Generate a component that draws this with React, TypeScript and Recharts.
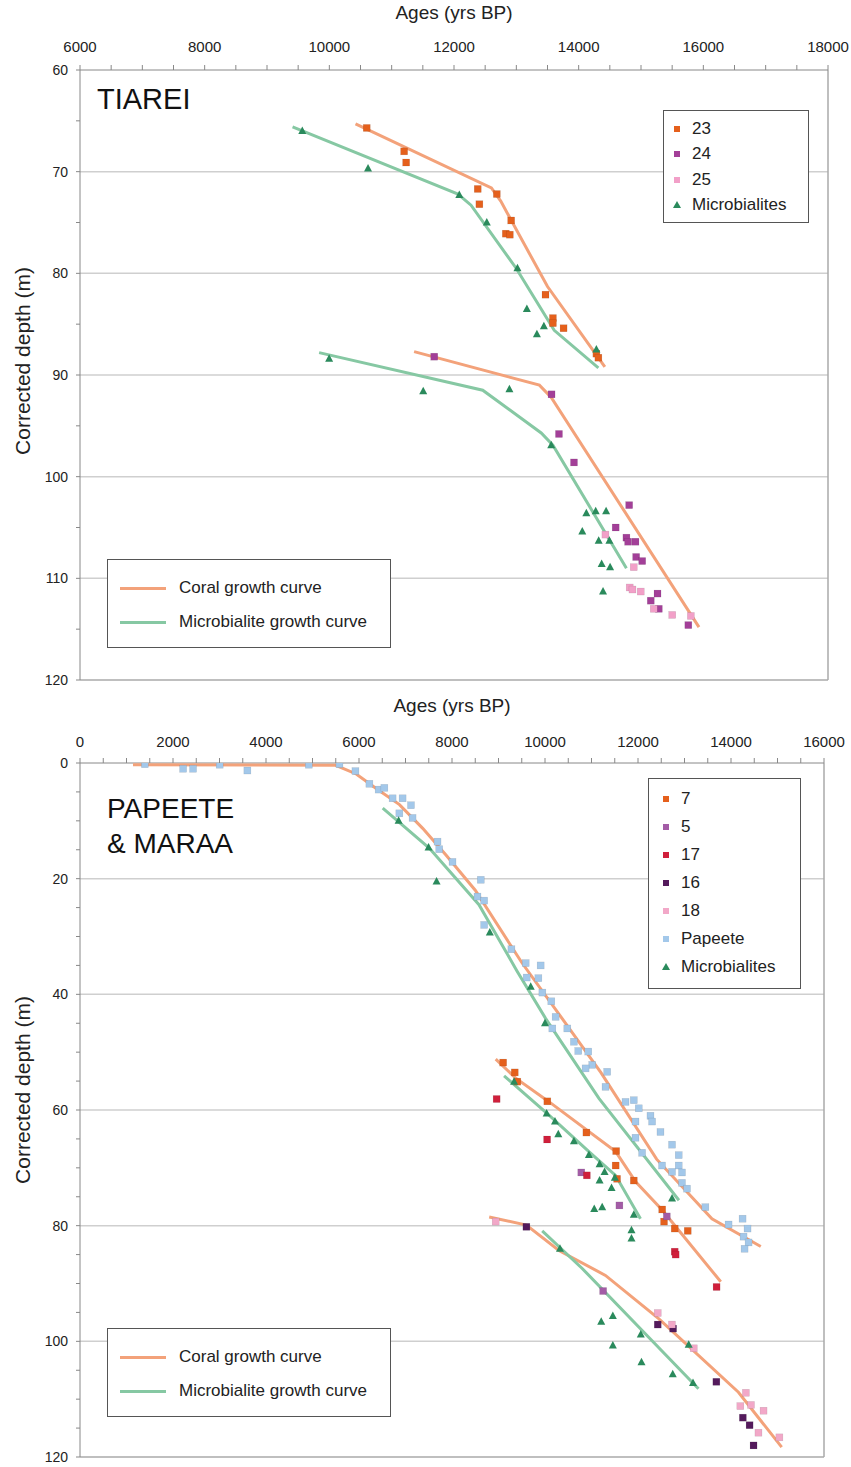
import React from "react";
import { ComposedChart, Scatter, XAxis, YAxis, ReferenceLine, Label } from "recharts";

type P = [number, number];
const pts = (a: P[]) => a.map(([x, y]) => ({ x, y }));

// ---- Tiarei (ages yrs BP, corrected depth m)
const tia23: P[] = [
  [10600, 65.7], [11200, 68.0], [11232, 69.1], [12381, 71.7], [12687, 72.2], [12407, 73.2],
  [12917, 74.8], [12831, 76.1], [12896, 76.2], [13468, 82.1], [13587, 84.4], [13587, 84.9],
  [13758, 85.4], [14284, 87.9], [14316, 88.3],
];
const tia24: P[] = [
  [11683, 88.2], [13565, 91.9], [13684, 95.8], [13925, 98.6], [14810, 102.8], [14594, 105.0],
  [14766, 106.0], [14793, 106.4], [14911, 106.4], [14922, 107.9], [15019, 108.3], [15265, 111.5],
  [15157, 112.2], [15286, 113.0], [15759, 114.6],
];
const tia25: P[] = [
  [14429, 105.7], [14884, 108.9], [14819, 110.9], [14863, 111.1], [14996, 111.3], [15205, 113.0],
  [15501, 113.6], [15800, 113.7],
];
const tiaMicro: P[] = [
  [9566, 66.0], [10621, 69.7], [12085, 72.3], [12526, 75.0], [13018, 79.5], [13169, 83.5],
  [13442, 85.2], [13330, 86.0], [14284, 87.5],
  [9997, 88.4], [11506, 91.6], [12889, 91.4], [13560, 96.9], [14123, 103.6], [14273, 103.4],
  [14440, 103.4], [14058, 105.4], [14321, 106.3], [14493, 106.3], [14369, 108.6], [14504, 108.9],
  [14391, 111.3],
];
const tiaCoralA: P[] = [[10420, 65.3], [12600, 71.6], [12750, 72.9], [13500, 81.3], [14420, 89.2]];
const tiaCoralB: P[] = [[11360, 87.7], [13370, 91.0], [13560, 92.2], [15930, 114.8]];
const tiaMicA: P[] = [[9410, 65.6], [12064, 72.2], [12273, 73.3], [12997, 79.5], [13608, 85.6], [14316, 89.3]];
const tiaMicB: P[] = [[9836, 87.8], [12461, 91.5], [13399, 95.7], [13587, 96.9], [14766, 109.0]];

// ---- Papeete & Maraa
const pap7: P[] = [
  [9100, 51.8], [9350, 53.5], [9405, 55.1], [10050, 58.5], [10890, 63.9], [11530, 67.1],
  [11520, 69.6], [11550, 71.9], [11910, 72.2], [12520, 77.2], [12560, 79.3], [12790, 80.5],
  [13070, 80.9],
];
const pap5: P[] = [[10780, 70.8], [11600, 76.5], [12620, 78.4], [11250, 91.3]];
const pap17: P[] = [[8960, 58.1], [10045, 65.1], [10900, 71.3], [12790, 84.5], [12810, 85.0], [13690, 90.6]];
const pap16: P[] = [[9600, 80.2], [12425, 97.1], [12755, 97.8], [13685, 107.0], [14255, 113.2], [14400, 114.5], [14485, 118.0]];
const pap18: P[] = [
  [8940, 79.3], [12425, 95.1], [12730, 97.1], [13200, 101.2], [14320, 108.9], [14200, 111.2],
  [14430, 111.0], [14700, 112.0], [14590, 115.8], [15040, 116.6],
];
const papPapeete: P[] = [
  [1395, 0.2], [2217, 1.0], [2431, 1.0], [3004, 0.3], [3599, 1.3], [4921, 0.3], [5579, 0.2],
  [5923, 1.4], [6223, 3.6], [6423, 4.6], [6545, 4.3], [6723, 6.1], [6938, 6.1], [7118, 7.3],
  [7152, 9.5], [6867, 8.7], [7689, 13.6], [7725, 14.9], [8011, 17.1], [8620, 20.2], [8548, 23.1],
  [8691, 23.8], [8691, 28.0], [9277, 32.2], [9585, 34.6], [9907, 35.0], [9607, 37.1], [9857, 37.2],
  [9943, 39.7], [10135, 41.2], [10229, 43.9], [10157, 45.9], [10479, 45.9], [10622, 48.2],
  [10715, 49.8], [10930, 49.9], [11016, 52.2], [10873, 52.8], [11337, 53.4], [11302, 56.0],
  [11732, 58.6], [11910, 58.3], [12017, 59.7], [12268, 61.0], [11946, 62.0], [12303, 62.0],
  [12483, 63.8], [11946, 64.8], [12088, 67.4], [12732, 66.0], [12876, 67.8], [12517, 69.6],
  [12876, 69.6], [12732, 70.7], [12946, 70.8], [12946, 72.6], [13054, 73.6], [13448, 76.8],
  [13948, 79.8], [14249, 78.8], [14356, 80.5], [14270, 81.9], [14378, 82.9], [14292, 84.0],
];
const papMicro: P[] = [
  [6852, 10.0], [7496, 14.6], [7668, 20.5], [8813, 29.3], [9693, 38.7], [10000, 45.0],
  [9335, 55.1], [10036, 60.6], [10215, 62.0], [10286, 64.2], [10622, 65.4], [10944, 67.8],
  [11174, 69.4], [11281, 70.7], [11174, 72.2], [11502, 71.7], [11431, 73.5], [11059, 77.1],
  [11230, 76.8], [11910, 78.1], [12732, 75.3], [11860, 80.8], [11860, 82.2],
  [10322, 84.0], [11209, 96.6], [11459, 95.6], [11459, 100.7], [12060, 98.8], [12075, 103.6],
  [12747, 105.7], [13183, 107.2], [13090, 100.6],
];
const papCoralA: P[] = [
  [1140, 0.3], [5500, 0.4], [5940, 1.9], [6370, 4.4], [6870, 7.2], [7370, 11.3], [7870, 15.9],
  [8500, 22.0], [9500, 34.5], [10370, 44.2], [11200, 53.5], [12400, 68.5], [13590, 78.8], [14640, 83.6],
];
const papCoralB: P[] = [[8940, 51.2], [9370, 54.5], [10090, 58.6], [11520, 67.2], [11950, 72.4], [12520, 77.3], [13780, 89.7]];
const papCoralC: P[] = [[8800, 78.5], [9600, 79.9], [10300, 84.3], [11300, 88.6], [12450, 96.1], [14160, 108.8], [15090, 118.3]];
const papMicA: P[] = [[6510, 7.8], [7510, 14.7], [8580, 24.5], [9400, 36.0], [10015, 44.2], [11160, 58.0], [12880, 75.6]];
const papMicB: P[] = [[9120, 54.1], [10086, 60.9], [10944, 67.2], [11517, 71.3], [12053, 78.8]];
const papMicC: P[] = [[9940, 80.9], [10800, 87.4], [13300, 108.2]];

const FONT = "Arial, 'Liberation Sans', Helvetica, sans-serif";
const CORAL = "#f3a27a";
const MICRO = "#86c8a3";

const range = (a: number, b: number, s: number) => {
  const out: number[] = [];
  for (let v = a; v <= b; v += s) out.push(v);
  return out;
};

const square = (fill: string) => (p: any) => (
  <rect x={p.cx - 3.5} y={p.cy - 3.5} width={7} height={7} fill={fill} stroke="rgba(0,0,0,0.15)" strokeWidth={0.5} />
);
const triangle = (fill: string) => (p: any) => (
  <polygon points={`${p.cx},${p.cy - 4.5} ${p.cx - 4},${p.cy + 3} ${p.cx + 4},${p.cy + 3}`} fill={fill} />
);
const none = () => <g />;

const xTick = (major: number) => (p: any) =>
  p.payload.value % major === 0 ? (
    <text x={p.x} y={p.y} textAnchor="middle" fontSize={15} fontFamily={FONT} fill="#222">
      {p.payload.value}
    </text>
  ) : (
    <g />
  );
const yTick = (major: number) => (p: any) =>
  p.payload.value % major === 0 ? (
    <text x={p.x} y={p.y} dy={5} textAnchor="end" fontSize={14} fontFamily={FONT} fill="#222">
      {p.payload.value}
    </text>
  ) : (
    <g />
  );

// rotated y title, shifted a little above the plot centre as in the source
const yTitle = (shift: number) => (p: any) => {
  const vb = p.viewBox || { y: 0, height: 0 };
  const cy = vb.y + vb.height / 2 + shift;
  return (
    <text x={24} y={cy} transform={`rotate(-90, 24, ${cy})`} textAnchor="middle" dominantBaseline="middle" fontSize={21} fontFamily={FONT} fill="#222">
      Corrected depth (m)
    </text>
  );
};

const curve = (d: P[], color: string, key: string) => (
  <Scatter key={key} data={pts(d)} line={{ stroke: color, strokeWidth: 3 }} shape={none} fill={color} isAnimationActive={false} />
);

const legendBox: React.CSSProperties = {
  position: "absolute",
  border: "1px solid #555",
  background: "#fff",
  fontFamily: FONT,
  fontSize: 17,
  color: "#222",
  boxSizing: "border-box",
};

const Mark = ({ color, tri }: { color: string; tri?: boolean }) => (
  <svg width={10} height={10} style={{ marginRight: 10, verticalAlign: "middle" }}>
    {tri ? <polygon points="5,1 1,8 9,8" fill={color} /> : <rect x={2} y={2} width={6} height={6} fill={color} />}
  </svg>
);

const CurveLegend = ({ top }: { top: number }) => (
  <div style={{ ...legendBox, left: 107, top, width: 284, height: 89, padding: "11px 0 0 12px" }}>
    {[["Coral growth curve", CORAL], ["Microbialite growth curve", MICRO]].map(([t, c]) => (
      <div key={t} style={{ height: 34, display: "flex", alignItems: "center" }}>
        <div style={{ width: 46, height: 3, background: c, marginRight: 13 }} />
        {t}
      </div>
    ))}
  </div>
);

export default function App() {
  const topTicksX = range(6000, 18000, 500);
  const topTicksY = range(60, 120, 5);
  const botTicksX = range(0, 16000, 500);
  const botTicksY = range(0, 120, 5);

  const tiaSeries: [P[], (p: any) => React.ReactElement, string][] = [
    [tia23, square("#e5601c"), "23"],
    [tia24, square("#a33f98"), "24"],
    [tia25, square("#f2a0c8"), "25"],
    [tiaMicro, triangle("#2a8a5c"), "m"],
  ];
  const papSeries: [P[], (p: any) => React.ReactElement, string][] = [
    [papPapeete, square("#a3c8ea"), "pap"],
    [pap7, square("#e5601c"), "7"],
    [pap5, square("#a35ca6"), "5"],
    [pap17, square("#d01f3b"), "17"],
    [pap16, square("#541a5c"), "16"],
    [pap18, square("#f2a8c8"), "18"],
    [papMicro, triangle("#2a8a5c"), "m"],
  ];

  const titleStyle = { fontSize: 19, fill: "#222", fontFamily: FONT };

  return (
    <div style={{ position: "absolute", left: 0, top: 0, width: 851, height: 1467, background: "#fff", fontFamily: FONT }}>
      <ComposedChart width={851} height={690} margin={{ top: 0, right: 23, bottom: 10, left: 0 }}>
        <XAxis
          type="number"
          dataKey="x"
          orientation="top"
          domain={[6000, 18000]}
          ticks={topTicksX}
          interval={0}
          height={70}
          tickSize={5}
          tickMargin={13}
          tick={xTick(2000)}
          stroke="#888"
          allowDataOverflow
        >
          <Label value="Ages (yrs BP)" position="insideTop" offset={6} style={titleStyle} />
        </XAxis>
        <YAxis
          type="number"
          dataKey="y"
          reversed
          domain={[60, 120]}
          ticks={topTicksY}
          interval={0}
          width={80}
          tickSize={4}
          tickMargin={8}
          tick={yTick(10)}
          stroke="#888"
          allowDataOverflow
        >
          <Label content={yTitle(-14)} />
        </YAxis>
        {[70, 80, 90, 100, 110].map((v) => (
          <ReferenceLine key={v} y={v} stroke="#cfcfcf" strokeWidth={1.5} />
        ))}
        <ReferenceLine y={120} stroke="#aaa" strokeWidth={1.5} />
        <ReferenceLine x={18000} stroke="#aaa" strokeWidth={1.5} />
        {curve(tiaCoralA, CORAL, "ca")}
        {curve(tiaCoralB, CORAL, "cb")}
        {curve(tiaMicA, MICRO, "ma")}
        {curve(tiaMicB, MICRO, "mb")}
        {tiaSeries.map(([d, s, k]) => (
          <Scatter key={k} data={pts(d)} shape={s} isAnimationActive={false} />
        ))}
      </ComposedChart>

      <div style={{ position: "absolute", left: 0, top: 690 }}>
        <ComposedChart width={851} height={777} margin={{ top: 0, right: 27, bottom: 10, left: 0 }}>
          <XAxis
            type="number"
            dataKey="x"
            orientation="top"
            domain={[0, 16000]}
            ticks={botTicksX}
            interval={0}
            height={73}
            tickSize={5}
            tickMargin={11}
            tick={xTick(2000)}
            stroke="#888"
            allowDataOverflow
          >
            <Label value="Ages (yrs BP)" position="insideTop" offset={9} style={titleStyle} />
          </XAxis>
          <YAxis
            type="number"
            dataKey="y"
            reversed
            domain={[0, 120]}
            ticks={botTicksY}
            interval={0}
            width={80}
            tickSize={4}
            tickMargin={8}
            tick={yTick(20)}
            stroke="#888"
            allowDataOverflow
          >
            <Label content={yTitle(-20)} />
          </YAxis>
          {[20, 40, 60, 80, 100].map((v) => (
            <ReferenceLine key={v} y={v} stroke="#cfcfcf" strokeWidth={1.5} />
          ))}
          <ReferenceLine y={120} stroke="#aaa" strokeWidth={1.5} />
          <ReferenceLine x={16000} stroke="#aaa" strokeWidth={1.5} />
          {curve(papCoralA, CORAL, "ca")}
          {curve(papCoralB, CORAL, "cb")}
          {curve(papCoralC, CORAL, "cc")}
          {curve(papMicA, MICRO, "ma")}
          {curve(papMicB, MICRO, "mb")}
          {curve(papMicC, MICRO, "mc")}
          {papSeries.map(([d, s, k]) => (
            <Scatter key={k} data={pts(d)} shape={s} isAnimationActive={false} />
          ))}
        </ComposedChart>
      </div>

      <div style={{ position: "absolute", left: 97, top: 83, fontSize: 29, color: "#111" }}>TIAREI</div>
      <div style={{ position: "absolute", left: 107, top: 791, fontSize: 28, lineHeight: "35px", color: "#111" }}>
        PAPEETE
        <br />& MARAA
      </div>

      <div style={{ ...legendBox, left: 663, top: 110, width: 146, height: 113, padding: "5px 0 0 8px" }}>
        {[["23", "#e5601c"], ["24", "#a33f98"], ["25", "#f2a0c8"], ["Microbialites", "#2a8a5c"]].map(([t, c]) => (
          <div key={t} style={{ height: 25.5, display: "flex", alignItems: "center" }}>
            <Mark color={c} tri={t === "Microbialites"} />
            {t}
          </div>
        ))}
      </div>

      <div style={{ ...legendBox, left: 648, top: 778, width: 153, height: 211, padding: "6px 0 0 12px" }}>
        {[
          ["7", "#e5601c"],
          ["5", "#a35ca6"],
          ["17", "#d01f3b"],
          ["16", "#541a5c"],
          ["18", "#f2a8c8"],
          ["Papeete", "#a3c8ea"],
          ["Microbialites", "#2a8a5c"],
        ].map(([t, c]) => (
          <div key={t} style={{ height: 28, display: "flex", alignItems: "center" }}>
            <Mark color={c} tri={t === "Microbialites"} />
            {t}
          </div>
        ))}
      </div>

      <CurveLegend top={559} />
      <CurveLegend top={1328} />
    </div>
  );
}
